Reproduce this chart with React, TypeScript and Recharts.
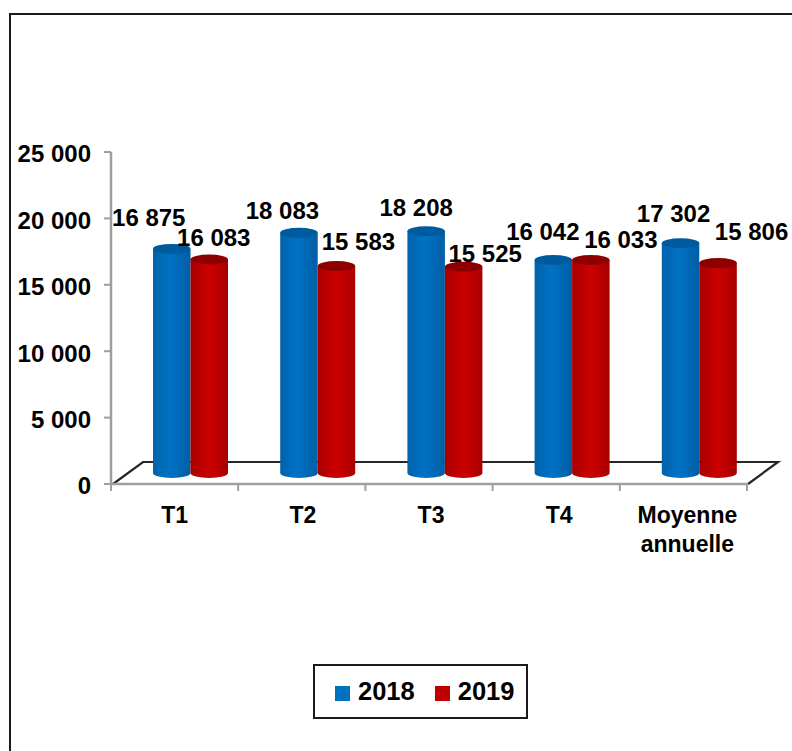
import { Bar, ComposedChart, Customized, LabelList, Legend, XAxis, YAxis } from 'recharts'

const categories = ['T1', 'T2', 'T3', 'T4', 'Moyenne annuelle']
const values2018 = [16875, 18083, 18208, 16042, 17302]
const values2019 = [16083, 15583, 15525, 16033, 15806]
const yTicks = [0, 5000, 10000, 15000, 20000, 25000]

// where the value labels sit relative to the top of their bar
const labelShift2018 = [
  { dx: -23, dy: -40 },
  { dx: -16.5, dy: -31 },
  { dx: -10, dy: -33 },
  { dx: -10.5, dy: -37 },
  { dx: -7, dy: -39 },
]
const labelShift2019 = [
  { dx: 4.5, dy: -31 },
  { dx: 22, dy: -33 },
  { dx: 21.5, dy: -22 },
  { dx: 30, dy: -29 },
  { dx: 33.5, dy: -40 },
]

const chartData = categories.map((name, i) => ({
  name,
  y2018: values2018[i],
  y2019: values2019[i],
}))

const FONT = '"Liberation Sans", Arial, sans-serif'
const AXIS_GREY = '#9f9f9f'
const DEPTH_X = 16
const DEPTH_Y = 11
const RY = 5
const BAR_W = 37.5
const CAT_STEP = 127.2

function fmt(v: number) {
  const s = String(v)
  if (s.length <= 3) return s
  return s.slice(0, -3) + ' ' + s.slice(-3)
}

function Cylinder({ x, y, width, height, gradient, top }: any) {
  const left = x + DEPTH_X
  const right = left + width
  const cx = left + width / 2
  const cy = y - DEPTH_Y
  const base = cy + height
  return (
    <g>
      <path
        d={`M${left},${cy} L${left},${base} A${width / 2},${RY} 0 0 0 ${right},${base} L${right},${cy} Z`}
        fill={`url(#${gradient})`}
      />
      <ellipse cx={cx} cy={cy} rx={width / 2} ry={RY} fill={top} />
    </g>
  )
}

function Floor() {
  return (
    <path
      d="M113,484 L143,462 L778,462 L748,484"
      fill="none"
      stroke="#262626"
      strokeWidth={2.2}
    />
  )
}

// the original has its tick marks between the categories, not under them
function CategoryTick({ x, y, payload, index }: any) {
  const words = payload.value === 'Moyenne annuelle' ? ['Moyenne', 'annuelle'] : [payload.value]
  const edges = index === categories.length - 1 ? [x - CAT_STEP / 2, x + CAT_STEP / 2] : [x - CAT_STEP / 2]
  return (
    <g>
      {edges.map((ex: number) => (
        <line key={ex} x1={ex} x2={ex} y1={484} y2={491} stroke={AXIS_GREY} strokeWidth={2} />
      ))}
      <text textAnchor="middle" fontFamily={FONT} fontWeight="bold" fontSize={23} fill="#000">
        {words.map((w: string, i: number) => (
          <tspan key={w} x={x + index} y={523 + i * 29}>
            {w}
          </tspan>
        ))}
      </text>
    </g>
  )
}

function ValueTick({ x, y, payload }: any) {
  return (
    <text x={x} y={y + 4} textAnchor="end" dominantBaseline="middle" fontFamily={FONT} fontWeight="bold" fontSize={24} fill="#000">
      {fmt(payload.value)}
    </text>
  )
}

function valueLabel(shifts: { dx: number; dy: number }[]) {
  return ({ x, y, value, index }: any) => (
    <text
      x={x + BAR_W / 2 + DEPTH_X + shifts[index].dx}
      y={y + shifts[index].dy}
      textAnchor="middle"
      dominantBaseline="middle"
      fontFamily={FONT}
      fontWeight="bold"
      fontSize={24}
      fill="#000"
    >
      {fmt(value)}
    </text>
  )
}

export default function App() {
  return (
    <div style={{ position: 'fixed', left: 0, top: 0, width: 792, height: 751, background: '#fff', overflow: 'hidden' }}>
      <div
        style={{
          position: 'absolute',
          left: 9,
          top: 13,
          width: 800,
          height: 800,
          border: '2px solid #1a1a1a',
        }}
      />
      <ComposedChart
        width={792}
        height={751}
        data={chartData}
        barGap={0}
        barSize={BAR_W}
        margin={{ top: 152, right: 45, left: 0, bottom: 152 }}
        style={{ position: 'absolute', left: 0, top: 0 }}
      >
        <defs>
          <linearGradient id="blueCyl" x1="0" y1="0" x2="1" y2="0">
            <stop offset="0" stopColor="#0062aa" />
            <stop offset="0.45" stopColor="#0072c6" />
            <stop offset="1" stopColor="#005ea4" />
          </linearGradient>
          <linearGradient id="redCyl" x1="0" y1="0" x2="1" y2="0">
            <stop offset="0" stopColor="#a80000" />
            <stop offset="0.5" stopColor="#cc0000" />
            <stop offset="1" stopColor="#a80000" />
          </linearGradient>
        </defs>
        <Customized component={Floor} />
        <XAxis
          dataKey="name"
          height={60}
          interval={0}
          axisLine={{ stroke: AXIS_GREY, strokeWidth: 2.5 }}
          tickLine={false}
          tick={<CategoryTick />}
        />
        <YAxis
          width={111}
          domain={[0, 25000]}
          ticks={yTicks}
          interval={0}
          axisLine={{ stroke: AXIS_GREY, strokeWidth: 2.5 }}
          tickLine={{ stroke: AXIS_GREY, strokeWidth: 2 }}
          tickSize={7}
          tickMargin={13}
          tick={<ValueTick />}
        />
        <Legend
          iconType="square"
          iconSize={15}
          wrapperStyle={{
            position: 'absolute',
            left: 313,
            top: 664,
            width: 215,
            height: 55,
            boxSizing: 'border-box',
            border: '2px solid #1a1a1a',
            display: 'flex',
            alignItems: 'center',
            justifyContent: 'flex-start',
            paddingLeft: 20,
            whiteSpace: 'nowrap',
            fontFamily: FONT,
            fontWeight: 'bold',
            fontSize: 25.5,
            color: '#000',
          }}
          formatter={(value: string) => <span style={{ color: '#000', marginLeft: 4, marginRight: 10 }}>{value}</span>}
        />
        <Bar
          dataKey="y2018"
          name="2018"
          fill="#0070c0"
          isAnimationActive={false}
          shape={<Cylinder gradient="blueCyl" top="#005a9e" />}
        >
          <LabelList dataKey="y2018" content={valueLabel(labelShift2018)} />
        </Bar>
        <Bar
          dataKey="y2019"
          name="2019"
          fill="#c00000"
          isAnimationActive={false}
          shape={<Cylinder gradient="redCyl" top="#8e0000" />}
        >
          <LabelList dataKey="y2019" content={valueLabel(labelShift2019)} />
        </Bar>
      </ComposedChart>
    </div>
  )
}
